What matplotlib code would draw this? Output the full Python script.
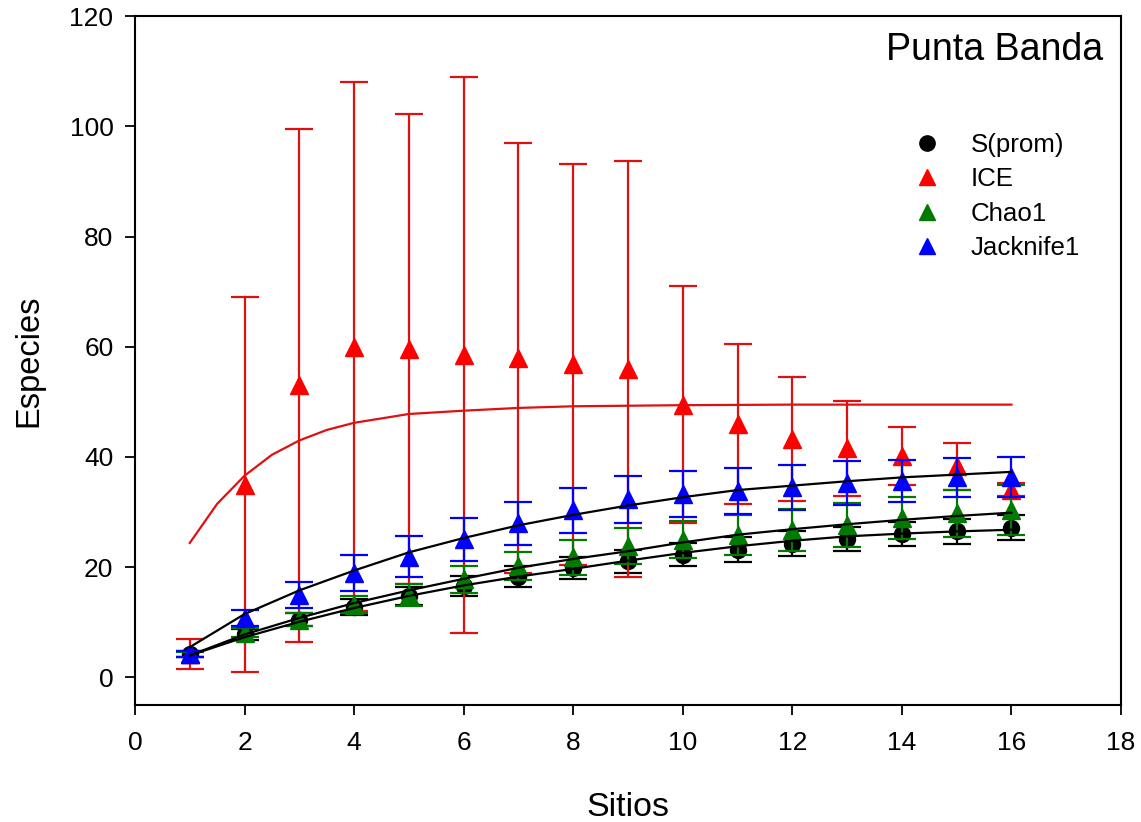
import matplotlib
matplotlib.use('Agg')
import matplotlib.pyplot as plt
from matplotlib.lines import Line2D

plt.rcParams['font.family'] = ['Liberation Sans', 'DejaVu Sans']

sitios = list(range(1, 17))

s_prom = [4.3, 7.8, 10.5, 12.8, 14.8, 16.6, 18.3, 19.9, 21.1, 22.3, 23.2, 24.3, 25.1, 26.0, 26.5, 27.2]
s_err = [0.5, 1.0, 1.2, 1.4, 1.6, 1.8, 1.9, 2.0, 2.1, 2.1, 2.2, 2.2, 2.2, 2.2, 2.2, 2.2]

ice = [4.2, 35.0, 53.0, 60.0, 59.6, 58.5, 58.0, 56.8, 56.0, 49.5, 46.0, 43.3, 41.6, 40.2, 38.3, 34.1]
ice_err = [2.7, 34.0, 46.5, 48.0, 42.7, 50.5, 39.0, 36.4, 37.7, 21.5, 14.5, 11.2, 8.6, 5.3, 4.3, 1.2]

chao1 = [4.2, 8.1, 10.5, 13.2, 15.0, 17.8, 20.2, 21.8, 23.8, 25.0, 25.9, 26.8, 27.7, 28.9, 29.8, 30.4]
chao1_err = [0.5, 0.8, 1.2, 1.5, 2.0, 2.4, 2.6, 3.2, 3.3, 3.4, 3.6, 3.8, 4.0, 3.8, 4.3, 4.5]

jack1 = [4.3, 10.8, 15.0, 18.9, 21.9, 25.1, 28.0, 30.3, 32.3, 33.3, 33.8, 34.5, 35.3, 35.7, 36.3, 36.4]
jack1_err = [0.5, 1.4, 2.4, 3.3, 3.7, 3.9, 3.9, 4.1, 4.2, 4.2, 4.2, 4.1, 4.0, 3.8, 3.6, 3.6]

# fitted curves
ice_fit_x = [1, 1.5, 2, 2.5, 3, 3.5, 4, 5, 6, 7, 8, 10, 12, 14, 16]
ice_fit_y = [24.4, 31.5, 36.6, 40.4, 43.0, 44.9, 46.2, 47.8, 48.4, 48.9, 49.2, 49.4, 49.5, 49.5, 49.5]

jack_fit = [5.5, 11.5, 15.8, 19.4, 22.7, 25.3, 27.6, 29.5, 31.2, 32.7, 34.0, 34.8, 35.6, 36.3, 36.8, 37.3]
chao_fit = [4.0, 7.8, 10.8, 13.5, 15.8, 17.9, 19.9, 21.5, 22.9, 24.5, 25.9, 26.9, 27.8, 28.6, 29.3, 29.9]
s_fit = [4.0, 7.3, 10.1, 12.6, 14.8, 16.7, 18.3, 19.7, 21.2, 22.6, 23.8, 24.8, 25.6, 26.1, 26.5, 26.8]

labels = ['S(prom)', 'ICE', 'Chao1', 'Jacknife1']
colors = ['black', '#ff0000', '#007a00', '#0000ff']
markers = ['o', '^', '^', '^']

fig = plt.figure(figsize=(11.41, 8.22), dpi=100)
ax = fig.add_axes([0.1183, 0.1423, 0.8642, 0.8382])

eb = dict(capsize=10, elinewidth=1.6, capthick=1.6, linestyle='none')
series = [(s_prom, s_err), (ice, ice_err), (chao1, chao1_err), (jack1, jack1_err)]
for i, (vals, errs) in enumerate(series):
    ms = 11.5 if markers[i] == 'o' else 13
    ecol = '#e01010' if labels[i] == 'ICE' else colors[i]
    ax.errorbar(sitios, vals, yerr=errs, color=colors[i], ecolor=ecol,
                marker=markers[i], ms=ms, zorder=3 + i, **eb)

ax.plot(ice_fit_x, ice_fit_y, color='#e01010', lw=1.6, zorder=7)
ax.plot(sitios, jack_fit, color='black', lw=1.6, zorder=7)
ax.plot(sitios, chao_fit, color='black', lw=1.6, zorder=7)
ax.plot(sitios, s_fit, color='black', lw=1.6, zorder=7)

ax.set_xlim(0, 18)
ax.set_ylim(-5, 120)
ax.set_xticks(range(0, 19, 2))
ax.set_yticks(range(0, 121, 20))
ax.tick_params(direction='out', length=7.5, width=1.3, labelsize=19, top=False, right=False)
ax.tick_params(axis='x', pad=11)
ax.tick_params(axis='y', pad=8)
for sp in ax.spines.values():
    sp.set_linewidth(1.5)

ax.set_xlabel('Sitios', fontsize=24.5, labelpad=27)
ax.set_ylabel('Especies', fontsize=23.5, labelpad=18)

ax.text(0.982, 0.95, 'Punta Banda', transform=ax.transAxes, ha='right', va='center', fontsize=27)

handles = [Line2D([], [], linestyle='none', marker=m, color=c, ms=11)
           for m, c in zip(markers, colors)]
ax.legend(handles, labels, loc='upper left', bbox_to_anchor=(0.764, 0.864), frameon=False,
          fontsize=18.6, handlelength=1.2, handletextpad=1.1, labelspacing=0.4)

plt.savefig('out.png', dpi=100)
